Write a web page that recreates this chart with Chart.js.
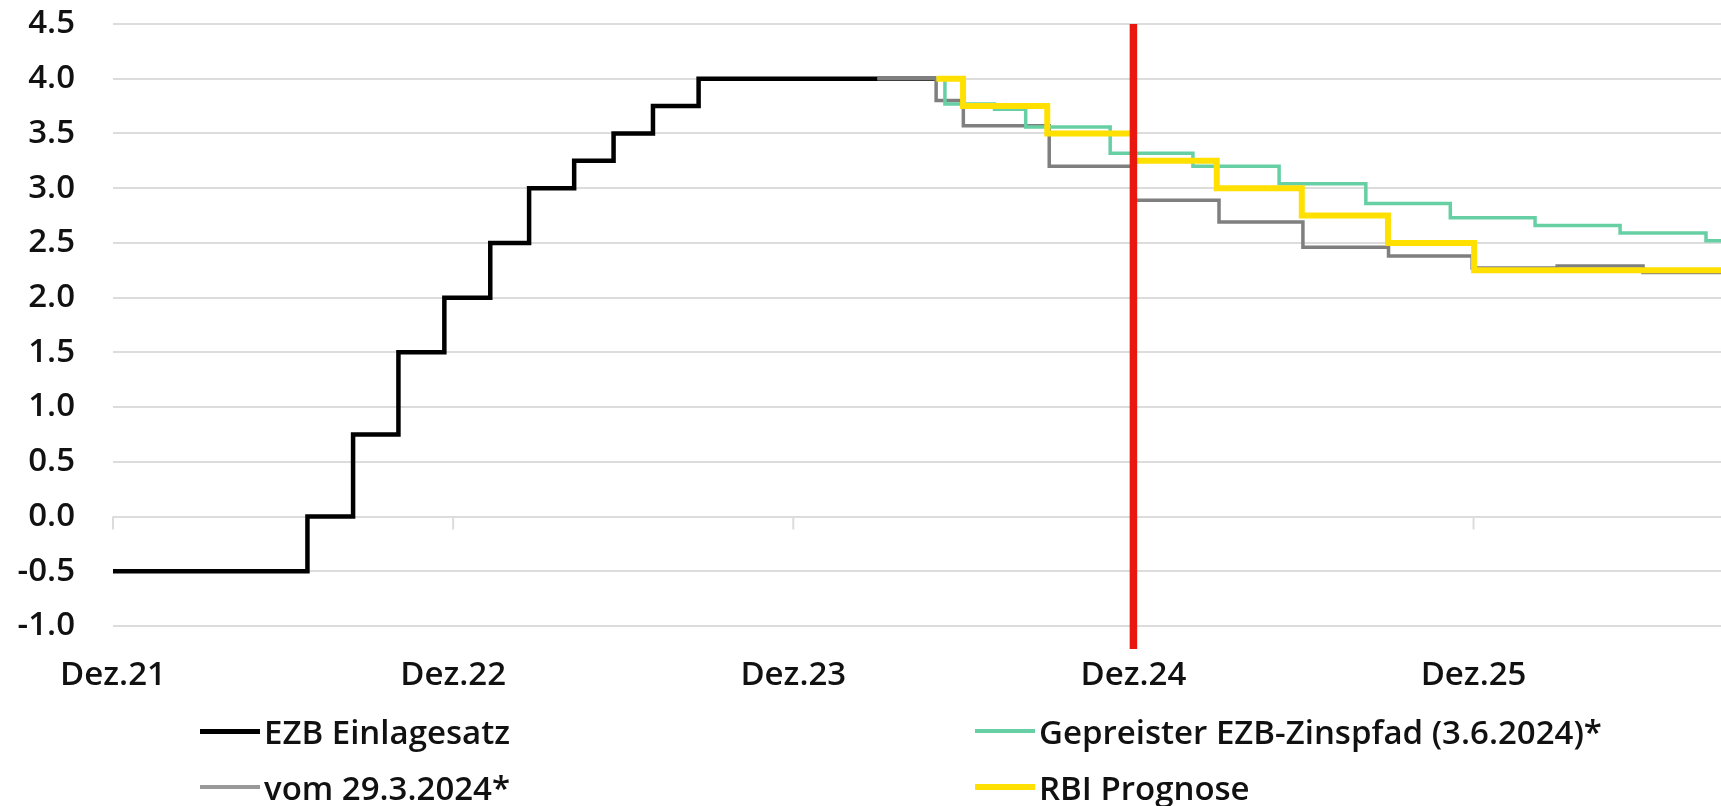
<!DOCTYPE html>
<html lang="de">
<head>
<meta charset="utf-8">
<title>EZB Einlagesatz</title>
<script src="https://cdn.jsdelivr.net/npm/chart.js@4/dist/chart.umd.min.js"></script>
<style>
    html, body { margin: 0; padding: 0; background: #fff; }
    #wrap { position: relative; width: 1721px; height: 806px; overflow: hidden; }
    #chart { display: block; }
    #legend {
        position: absolute; left: 200px; top: 703px;
        display: grid; grid-template-columns: 775px auto; grid-auto-rows: 56px;
        font-family: 'Open Sans', sans-serif; font-size: 33px; font-weight: 600; color: #111;
    }
    .item { display: flex; align-items: center; white-space: nowrap; }
    .swatch { width: 60px; margin-right: 4px; }
</style>
</head>
<body>
<div id="wrap">
    <canvas id="chart" width="1721" height="806"></canvas>
    <div id="legend"></div>
</div>
<script>
// x = months after Dez.21
const tickMonths = [0, 12, 24, 36, 48];
const tickLabels = ['Dez.21', 'Dez.22', 'Dez.23', 'Dez.24', 'Dez.25'];
const xMax = 56.73;

const ezbMonths = [0, 6.86, 8.47, 10.07, 11.69, 13.31, 14.68, 16.27, 17.66, 19.05, 20.66, 29.05];
const ezbRates  = [-0.5, 0, 0.75, 1.5, 2.0, 2.5, 3.0, 3.25, 3.5, 3.75, 4.0, 4.0];

const marchMonths = [26.96, 29.04, 30.0, 33.03, 36.0, 39.02, 41.98, 45.0, 47.95, 50.95, 53.98, 56.73];
const marchRates  = [4.0, 3.80, 3.57, 3.20, 2.89, 2.69, 2.46, 2.38, 2.27, 2.29, 2.23, 2.23];

const juneMonths = [29.05, 29.35, 31.1, 32.2, 35.18, 38.1, 41.14, 44.2, 47.18, 50.17, 53.17, 56.2, 56.73];
const juneRates  = [4.0, 3.77, 3.72, 3.56, 3.32, 3.20, 3.04, 2.86, 2.73, 2.66, 2.59, 2.52, 2.52];

const rbiMonths = [29.05, 29.99, 32.96, 36.0, 38.94, 41.94, 44.98, 48.02, 56.73];
const rbiRates  = [4.0, 3.75, 3.5, 3.25, 3.0, 2.75, 2.5, 2.25, 2.25];

// today marker (Dez.24)
const markerMonth = 36;
const markerRange = [4.5, -1.21];

const gridColor = '#dcdcdc';
const textColor = '#111';

const toPoints = (xs, ys) => xs.map((x, i) => ({ x: x, y: ys[i] }));

function stepLine(label, xs, ys, color, width, order) {
    return {
        label: label,
        data: toPoints(xs, ys),
        borderColor: color,
        backgroundColor: color,
        borderWidth: width,
        stepped: true,
        pointRadius: 0,
        fill: false,
        order: order
    };
}

const datasets = [
    stepLine('EZB Einlagesatz', ezbMonths, ezbRates, '#000000', 4.5, 4),
    stepLine('Gepreister EZB-Zinspfad (3.6.2024)*', juneMonths, juneRates, '#66d0a4', 3.5, 2),
    stepLine('vom 29.3.2024*', marchMonths, marchRates, '#7f7f7f', 3.5, 3),
    stepLine('RBI Prognose', rbiMonths, rbiRates, '#ffe000', 6, 1),
    {
        label: 'marker',
        data: markerRange.map(v => ({ x: markerMonth, y: v })),
        borderColor: '#e8180f',
        borderWidth: 7.5,
        pointRadius: 0,
        clip: false,
        order: 0
    }
];

// small tick marks below the zero line, as in the original
const zeroTicks = {
    id: 'zeroTicks',
    beforeDatasetsDraw(chart) {
        const ctx = chart.ctx;
        const x = chart.scales.x, y = chart.scales.y;
        const y0 = y.getPixelForValue(0);
        ctx.save();
        ctx.strokeStyle = gridColor;
        ctx.lineWidth = 2;
        tickMonths.forEach(m => {
            const px = x.getPixelForValue(m);
            ctx.beginPath();
            ctx.moveTo(px, y0);
            ctx.lineTo(px, y0 + 13);
            ctx.stroke();
        });
        ctx.restore();
    }
};

Chart.defaults.font.family = "'Open Sans', sans-serif";
Chart.defaults.font.size = 33;
Chart.defaults.font.weight = 600;
Chart.defaults.color = textColor;

const chart = new Chart(document.getElementById('chart').getContext('2d'), {
    type: 'line',
    data: { datasets: datasets },
    options: {
        responsive: false,
        animation: false,
        layout: { padding: { left: 0, top: 24, right: 0, bottom: 0 } },
        plugins: { legend: { display: false }, tooltip: { enabled: false } },
        scales: {
            x: {
                type: 'linear',
                min: 0,
                max: xMax,
                afterBuildTicks: axis => { axis.ticks = tickMonths.map(v => ({ value: v })); },
                afterFit: axis => { axis.height = 180; },
                ticks: {
                    autoSkip: false,
                    maxRotation: 0,
                    padding: 30,
                    callback: v => tickLabels[tickMonths.indexOf(v)]
                },
                grid: { display: false, drawTicks: false },
                border: { display: false }
            },
            y: {
                min: -1,
                max: 4.5,
                afterFit: axis => { axis.width = 113; },
                ticks: { stepSize: 0.5, padding: 3, callback: v => v.toFixed(1) },
                grid: { color: gridColor, lineWidth: 2, tickLength: 35, tickColor: 'rgba(0,0,0,0)' },
                border: { display: false }
            }
        }
    },
    plugins: [zeroTicks]
});

// legend in two columns, built from the datasets
const legend = document.getElementById('legend');
chart.data.datasets.filter(d => d.label !== 'marker').forEach(d => {
    const item = document.createElement('div');
    item.className = 'item';
    const sw = document.createElement('span');
    sw.className = 'swatch';
    sw.style.height = Math.max(4, Math.round(d.borderWidth)) + 'px';
    sw.style.background = d.borderColor === '#7f7f7f' ? '#999' : d.borderColor;
    const txt = document.createElement('span');
    txt.textContent = d.label;
    item.appendChild(sw);
    item.appendChild(txt);
    legend.appendChild(item);
});
</script>
</body>
</html>
